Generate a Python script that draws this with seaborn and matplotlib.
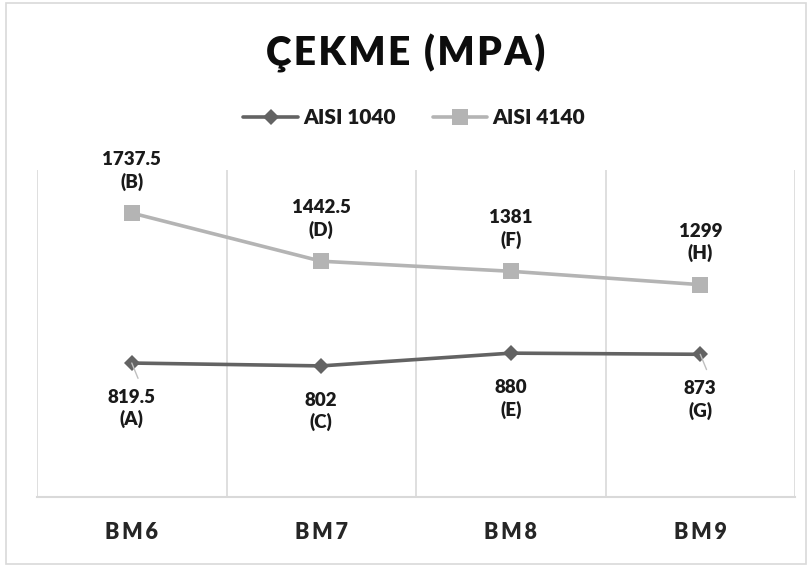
import matplotlib
matplotlib.use("Agg")
import matplotlib.pyplot as plt
import seaborn as sns
import pandas as pd
from matplotlib.patches import Rectangle
from matplotlib.lines import Line2D

categories = ["BM6", "BM7", "BM8", "BM9"]
aisi1040 = [819.5, 802, 880, 873]
aisi4140 = [1737.5, 1442.5, 1381, 1299]
labels1040 = ["A", "C", "E", "G"]
labels4140 = ["B", "D", "F", "H"]
series_names = ["AISI 1040", "AISI 4140"]

df = pd.DataFrame({
    "cat": categories * 2,
    "val": aisi1040 + aisi4140,
    "series": [series_names[0]] * 4 + [series_names[1]] * 4,
})

sns.set_theme(style="white")
FONT = ["Lato", "DejaVu Sans"]
plt.rcParams["font.family"] = FONT
W = 800

fig = plt.figure(figsize=(8.12, 5.67), dpi=100)
ax = fig.add_axes([0.0456, 0.1235, 0.9335, 0.5765])

c1040 = "#636363"
c4140 = "#b4b4b4"
sns.lineplot(data=df, x="cat", y="val", hue="series", style="series",
             markers={"AISI 1040": "D", "AISI 4140": "s"}, dashes=False,
             palette={"AISI 1040": c1040, "AISI 4140": c4140},
             markersize=10, linewidth=2.6, markeredgewidth=0, ax=ax,
             legend=False, sort=False)
for ln in ax.get_lines():
    if ln.get_marker() == "D":
        ln.set_markersize(8.5)
    elif ln.get_marker() == "s":
        ln.set_markersize(11)

ax.set_xlim(-0.5, 3.5)
ax.set_ylim(0, 2000)
ax.set_yticks([])
ax.set_xlabel("")
ax.set_ylabel("")
ax.set_xticks(range(4))
ax.set_xticklabels(["\u2009".join(c) for c in categories], fontsize=15.5, fontweight=W,
                   color="#262626", family=FONT)
ax.tick_params(axis="x", length=0, pad=18)
for xb in [-0.5, 0.5, 1.5, 2.5, 3.5]:
    ax.axvline(xb, color="#d9d9d9", lw=1.2, zorder=0)
for s in ["top", "left", "right"]:
    ax.spines[s].set_visible(False)
ax.spines["bottom"].set_color("#d9d9d9")
ax.spines["bottom"].set_linewidth(1.5)

for i, (v, l) in enumerate(zip(aisi4140, labels4140)):
    ax.annotate(f"{v:g}\n({l})", (i, v), xytext=(0, 16), textcoords="offset points",
                ha="center", va="bottom", fontsize=13.5, fontweight=W,
                color="#1a1a1a", linespacing=1.3)
for i, (v, l) in enumerate(zip(aisi1040, labels1040)):
    ax.annotate(f"{v:g}\n({l})", (i, v), xytext=(0, -18.5), textcoords="offset points",
                ha="center", va="top", fontsize=13.5, fontweight=W,
                color="#1a1a1a", linespacing=1.3)
for i in (0, 3):
    ax.annotate("", xy=(i, aisi1040[i]), xytext=(4.5, -11), textcoords="offset points",
                arrowprops=dict(arrowstyle="-", color="#bfbfbf", lw=1.0,
                                shrinkA=0, shrinkB=0), zorder=5)

fig.text(0.5, 0.905, "\u200a".join("ÇEKME (MPA)"), ha="center", va="center", fontsize=28,
         fontweight=W, color="#0d0d0d")

handles = [Line2D([], [], color=c1040, lw=2.6, marker="D", markersize=8.5, markeredgewidth=0),
           Line2D([], [], color=c4140, lw=2.6, marker="s", markersize=11, markeredgewidth=0)]
fig.legend(handles, series_names, loc="center", bbox_to_anchor=(0.51, 0.793), ncol=2,
           frameon=False, prop={"weight": W, "size": 15, "family": FONT},
           handlelength=2.6, handletextpad=0.25, columnspacing=1.8, labelcolor="#1a1a1a")

fig.patches.append(Rectangle((0.008, 0.006), 0.984, 0.988, transform=fig.transFigure,
                             fill=False, edgecolor="#d9d9d9", lw=1.2))

fig.savefig("out.png", dpi=100)
